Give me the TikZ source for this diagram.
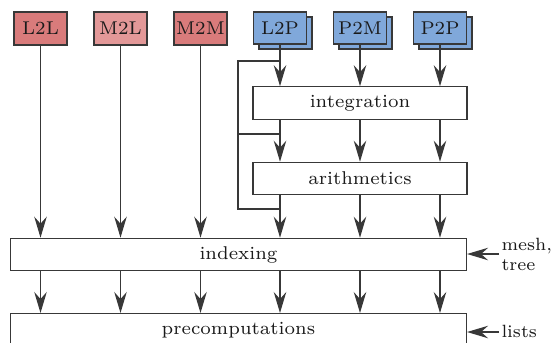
\documentclass[tikz,border=0pt]{standalone}
\usetikzlibrary{arrows.meta,shadows}
\definecolor{redA}{HTML}{D97B7B}
\definecolor{redB}{HTML}{E39898}
\definecolor{blueA}{HTML}{80A8DA}
\definecolor{lineC}{HTML}{383838}
\definecolor{textC}{HTML}{1A1A1A}
\begin{document}
\begin{tikzpicture}[x=0.4pt,y=-0.4pt,
  font=\fontsize{7.4}{8}\selectfont,
  every node/.style={text=textC},
  side/.style={inner sep=0pt,font=\fontsize{7.1}{8}\selectfont},
  op/.style={draw=lineC,line width=0.45pt,inner sep=0pt,minimum width=21.2pt,minimum height=13.2pt},
  redop/.style={op,fill=redA},
  pinkop/.style={op,fill=redB},
  blueop/.style={op,minimum height=12.8pt,fill=blueA,copy shadow={shadow xshift=2.2pt,shadow yshift=-2pt}},
  stage/.style={draw=lineC,line width=0.45pt,fill=white,inner sep=0pt,minimum height=13pt},
  flow/.style={draw=lineC,line width=0.5pt,-{Stealth[length=8.4pt,width=5pt,inset=2.8pt]}},
  wire/.style={draw=lineC,line width=0.5pt}]
\useasboundingbox (0,0) rectangle (554,342);
\clip (0,0) rectangle (554,342);
% top operator boxes
\node[redop]  (l2l) at (40.5,28.5) {L2L};
\node[pinkop] (m2l) at (120.5,28.5) {M2L};
\node[redop]  (m2m) at (200.5,28.5) {M2M};
\node[blueop] (l2p) at (280,28) {L2P};
\node[blueop] (p2m) at (360,28) {P2M};
\node[blueop] (p2p) at (440,28) {P2P};
% stages
\node[stage,minimum width=85.6pt] (int) at (360,103) {integration};
\node[stage,minimum width=85.6pt] (ari) at (360,178.5) {arithmetics};
\node[stage,minimum width=182.4pt] (idx) at (238.5,254.5) {indexing};
\node[stage,minimum width=182.4pt,minimum height=13.6pt,anchor=north] (pre) at (238.5,313) {precomputations};
% side inputs
\node[side,anchor=west,align=left] (mesh) at (501,254) {mesh,\\tree};
\node[side,anchor=base west] (lists) at (501,337) {lists};
\coordinate (meshin) at (499,254);
\coordinate (listsin) at (499,332);
\draw[flow] (meshin) -- (meshin -| idx.east);
\draw[flow] (listsin) -- (listsin -| pre.east);
% left three columns down to indexing
\foreach \n in {l2l,m2l,m2m} \draw[flow] (\n.south) -- (\n |- idx.north);
% blue columns through integration and arithmetics
\foreach \n in {l2p,p2m,p2p} {
  \draw[flow] (\n.south) -- (\n |- int.north);
  \draw[flow] (\n |- int.south) -- (\n |- ari.north);
  \draw[flow] (\n |- ari.south) -- (\n |- idx.north);
}
% bypass of L2P
\coordinate (b1) at (238,61);
\coordinate (b2) at (238,134);
\coordinate (b3) at (238,209);
\draw[wire] (b1 -| l2p) -- (b1) -- (b3) -- (b3 -| l2p);
\draw[wire] (b2) -- (b2 -| l2p);
% indexing to precomputations
\foreach \n in {l2l,m2l,m2m,l2p,p2m,p2p}
  \draw[flow] (\n |- idx.south) -- (\n |- pre.north);
\end{tikzpicture}
\end{document}
